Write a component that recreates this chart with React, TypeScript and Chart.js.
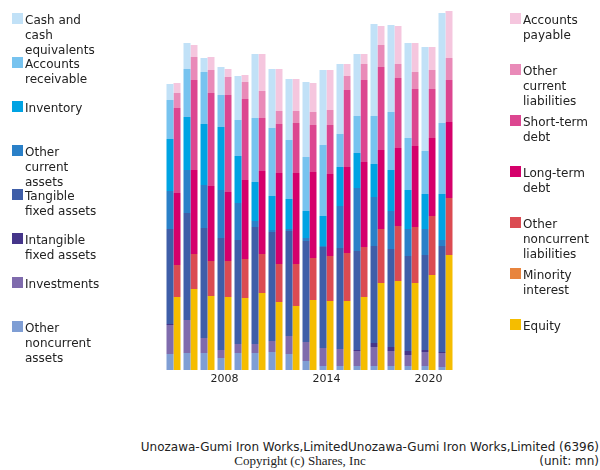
import React, { useEffect, useRef } from "react";
import { Chart, registerables } from "chart.js";

Chart.register(...registerables);

const years = ["2005","2006","2007","2008","2009","2010","2011","2012","2013","2014","2015","2016","2017","2018","2019","2020","2021"];
const shownTicks = ["2008", "2014", "2020"];

// Assets (bottom to top)
const otherNoncurrentAssets = [16,17,17,12,17,17,18,16,9,4,4,4,4,4,4,4,3];
const investments = [29,33,15,8,9,9,11,18,19,18,17,15,19,15,11,14,14];
const intangibleFixedAssets = [1,0,0,0,0,0,0,0,0,0,0,1,4,4,4,2,1];
const tangibleFixedAssets = [95,107,110,112,104,117,109,105,101,101,101,99,97,98,95,95,106];
const otherCurrentAssets = [38,43,43,48,37,6,2,2,3,1,42,63,49,38,27,26,6];
const inventory = [52,53,61,63,47,39,34,30,27,30,39,35,33,41,39,35,46];
const accountsReceivable = [39,48,52,32,36,64,68,59,54,71,33,37,48,58,52,43,71];
const cashAndEquivalents = [16,26,14,28,44,64,59,61,75,75,70,62,92,87,95,104,110];

// Liabilities & equity (bottom to top)
const equity = [73,81,74,73,72,77,68,64,70,69,69,73,87,89,87,95,115];
const minorityInterest = [0,0,0,0,0,0,0,0,0,0,0,0,0,0,0,0,0];
const otherNoncurrentLiabilities = [32,35,35,36,39,39,38,42,42,45,48,50,54,55,56,59,57];
const longTermDebt = [72,84,75,69,79,83,91,91,86,82,86,85,79,78,81,78,76];
const shortTermDebt = [85,90,93,97,81,53,49,50,47,49,77,82,83,70,57,49,42];
const otherCurrentLiabilities = [15,23,23,18,17,27,13,12,13,15,14,16,22,14,17,19,22];
const accountsPayable = [10,12,13,8,7,37,42,32,29,40,12,10,19,38,29,23,47];

const C = {
  cash: "#c1e1f7",
  ar: "#77c3ef",
  inv: "#00a3e3",
  oca: "#2a80c8",
  tan: "#3f5ea8",
  intg: "#45358a",
  invest: "#7f6bad",
  ona: "#7f9ed4",
  ap: "#f5c6de",
  ocl: "#e98ab8",
  std: "#dc4690",
  ltd: "#d5006b",
  onl: "#db4b52",
  mi: "#e8843d",
  eq: "#f5bd00",
};

const leftLegend = [
  { color: C.cash, lines: ["Cash and", "cash", "equivalents"], top: 12 },
  { color: C.ar, lines: ["Accounts", "receivable"], top: 56 },
  { color: C.inv, lines: ["Inventory"], top: 100 },
  { color: C.oca, lines: ["Other", "current", "assets"], top: 144 },
  { color: C.tan, lines: ["Tangible", "fixed assets"], top: 188 },
  { color: C.intg, lines: ["Intangible", "fixed assets"], top: 232 },
  { color: C.invest, lines: ["Investments"], top: 276 },
  { color: C.ona, lines: ["Other", "noncurrent", "assets"], top: 320 },
];

const rightLegend = [
  { color: C.ap, lines: ["Accounts", "payable"], top: 12 },
  { color: C.ocl, lines: ["Other", "current", "liabilities"], top: 63 },
  { color: C.std, lines: ["Short-term", "debt"], top: 114 },
  { color: C.ltd, lines: ["Long-term", "debt"], top: 165 },
  { color: C.onl, lines: ["Other", "noncurrent", "liabilities"], top: 216 },
  { color: C.mi, lines: ["Minority", "interest"], top: 267 },
  { color: C.eq, lines: ["Equity"], top: 318 },
];

const font = "'DejaVu Sans', sans-serif";

function LegendItem({ color, lines, top, left }: { color: string; lines: string[]; top: number; left: number }) {
  return (
    <div style={{ position: "absolute", left, top, fontFamily: font, fontSize: 12, lineHeight: "15px", color: "#222" }}>
      <div style={{ position: "absolute", left: 0, top: 1, width: 11, height: 11, background: color }} />
      <div style={{ position: "absolute", left: 13, top: 1, whiteSpace: "nowrap" }}>
        {lines.map((l, i) => (
          <div key={i}>{l}</div>
        ))}
      </div>
    </div>
  );
}

export default function App() {
  const ref = useRef<HTMLCanvasElement | null>(null);

  useEffect(() => {
    if (!ref.current) return;
    const mk = (label: string, data: number[], color: string, stack: string) => ({
      label,
      data,
      backgroundColor: color,
      borderWidth: 0,
      stack,
      categoryPercentage: 14 / 17,
      barPercentage: 1,
    });
    const chart = new Chart(ref.current, {
      type: "bar",
      data: {
        labels: years,
        datasets: [
          mk("Other noncurrent assets", otherNoncurrentAssets, C.ona, "a"),
          mk("Investments", investments, C.invest, "a"),
          mk("Intangible fixed assets", intangibleFixedAssets, C.intg, "a"),
          mk("Tangible fixed assets", tangibleFixedAssets, C.tan, "a"),
          mk("Other current assets", otherCurrentAssets, C.oca, "a"),
          mk("Inventory", inventory, C.inv, "a"),
          mk("Accounts receivable", accountsReceivable, C.ar, "a"),
          mk("Cash and cash equivalents", cashAndEquivalents, C.cash, "a"),
          mk("Equity", equity, C.eq, "l"),
          mk("Minority interest", minorityInterest, C.mi, "l"),
          mk("Other noncurrent liabilities", otherNoncurrentLiabilities, C.onl, "l"),
          mk("Long-term debt", longTermDebt, C.ltd, "l"),
          mk("Short-term debt", shortTermDebt, C.std, "l"),
          mk("Other current liabilities", otherCurrentLiabilities, C.ocl, "l"),
          mk("Accounts payable", accountsPayable, C.ap, "l"),
        ],
      },
      options: {
        animation: false,
        responsive: false,
        maintainAspectRatio: false,
        layout: { padding: { left: 165, right: 146, top: 10, bottom: 0 } },
        plugins: { legend: { display: false }, tooltip: { enabled: false } },
        scales: {
          x: {
            stacked: true,
            grid: { display: false, drawTicks: false },
            border: { display: false },
            ticks: {
              autoSkip: false,
              maxRotation: 0,
              padding: 3,
              color: "#222",
              font: { family: font, size: 11 },
              callback: function (this: any, val: any) {
                const lab = years[val as number];
                return shownTicks.includes(lab) ? lab : "";
              },
            },
            afterFit: (s: any) => {
              s.height = 30;
            },
          },
          y: {
            stacked: true,
            display: false,
            min: 0,
            max: 360,
          },
        },
      },
    });
    return () => chart.destroy();
  }, []);

  return (
    <div style={{ position: "absolute", left: 0, top: 0, width: 600, height: 470, background: "#fff", overflow: "hidden" }}>
      <canvas ref={ref} width={600} height={400} style={{ position: "absolute", left: 0, top: 0, width: 600, height: 400 }} />
      {leftLegend.map((it, i) => (
        <LegendItem key={"l" + i} {...it} left={12} />
      ))}
      {rightLegend.map((it, i) => (
        <LegendItem key={"r" + i} {...it} left={510} />
      ))}
      <div style={{ position: "absolute", right: 1, top: 440, fontFamily: font, fontSize: 12, lineHeight: "14px", color: "#222", whiteSpace: "nowrap" }}>
        Unozawa-Gumi Iron Works,LimitedUnozawa-Gumi Iron Works,Limited (6396)
      </div>
      <div style={{ position: "absolute", right: 1, top: 454, fontFamily: font, fontSize: 12, lineHeight: "14px", color: "#222", whiteSpace: "nowrap" }}>
        (unit: mn)
      </div>
      <div style={{ position: "absolute", left: 0, width: 600, top: 453, textAlign: "center", fontFamily: "'Liberation Serif', 'DejaVu Serif', serif", fontSize: 13, lineHeight: "15px", color: "#222", whiteSpace: "nowrap" }}>
        Copyright (c) Shares, Inc
      </div>
    </div>
  );
}
